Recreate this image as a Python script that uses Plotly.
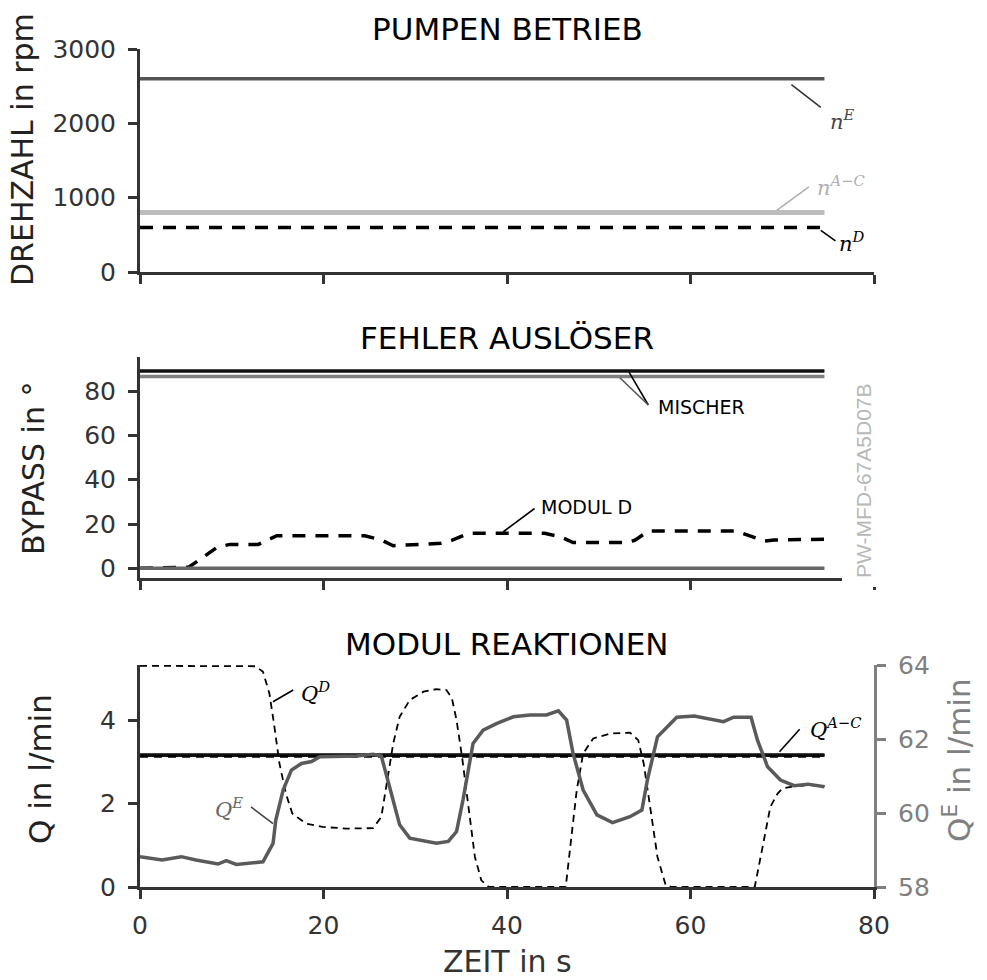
import plotly.graph_objects as go

# ---------------- data ----------------
t_span = [0, 74.6]
n_E = [2600, 2600]
n_AC = [800, 800]
n_D = [600, 600]

mischer_1 = [89.0, 89.0]
mischer_2 = [86.6, 86.6]
bypass_zero = [0.0, 0.0]

t_modd = [0, 3.3, 5.3, 6.7, 8.4, 9.8, 12.9, 14.9, 24.5, 26.3, 27.6, 32.8, 34.1, 35.8,
          44.1, 45.8, 47.2, 53.3, 54.0, 55.4, 65.0, 66.7, 68.1, 69.1, 73.5, 74.6]
modul_d = [0.0, 0.3, 0.5, 4.5, 9.5, 10.8, 10.8, 14.7, 14.7, 12.8, 10.2, 11.3, 12.8, 15.8,
           15.8, 14.3, 11.6, 11.6, 12.8, 16.8, 16.8, 14.3, 12.3, 12.8, 13.1, 13.1]

q_A = [3.17, 3.17]
q_B = [3.15, 3.15]
q_C = [3.13, 3.13]

t_qd = [0, 12.6, 13.4, 14.1, 14.6, 15.2, 15.9, 16.6, 18.1, 19.9, 22.5, 25.4, 26.3, 26.9,
        27.6, 28.3, 29.4, 30.9, 32.3, 33.4, 34.0, 34.5, 35.1, 35.8, 36.5, 37.2, 38.0,
        46.4, 47.1, 47.6, 48.3, 49.4, 51.3, 53.4, 54.3, 54.9, 55.6, 56.4, 57.3, 58.0,
        67.0, 67.3, 68.0, 68.7, 69.5, 70.0, 71.5, 73.0, 74.6]
q_D = [5.30, 5.29, 5.16, 4.64, 3.92, 2.96, 2.24, 1.76, 1.52, 1.44, 1.40, 1.41, 1.68, 2.48,
       3.44, 4.08, 4.48, 4.68, 4.74, 4.72, 4.52, 4.00, 3.12, 1.92, 0.72, 0.16, 0.0,
       0.0, 1.28, 2.32, 3.20, 3.56, 3.68, 3.70, 3.52, 2.96, 1.92, 0.72, 0.04, 0.0,
       0.0, 0.32, 1.12, 1.92, 2.24, 2.36, 2.42, 2.44, 2.42]

t_qe = [0, 2.4, 4.5, 6.1, 8.5, 9.4, 10.5, 13.4, 14.5, 14.8, 15.6, 16.5, 17.6, 18.7, 19.6,
        21.4, 23.6, 25.4, 26.3, 27.0, 28.3, 29.4, 30.5, 32.3, 33.6, 34.5, 35.2, 36.3,
        37.4, 38.9, 40.7, 42.5, 44.3, 45.6, 46.5, 47.2, 48.3, 49.8, 51.5, 53.4, 54.7,
        55.3, 56.4, 57.5, 58.5, 60.4, 62.2, 63.6, 64.7, 66.6, 67.3, 68.4, 69.8, 71.3,
        72.8, 74.6]
q_E = [58.82, 58.73, 58.82, 58.73, 58.62, 58.71, 58.61, 58.68, 59.18, 59.81, 60.62, 61.16,
       61.34, 61.39, 61.52, 61.52, 61.54, 61.59, 61.54, 60.89, 59.68, 59.32, 59.27, 59.18,
       59.23, 59.50, 60.35, 61.88, 62.24, 62.42, 62.60, 62.65, 62.65, 62.76, 62.51, 61.61,
       60.62, 59.95, 59.74, 59.90, 60.08, 60.89, 62.06, 62.33, 62.59, 62.62, 62.53, 62.47,
       62.59, 62.59, 61.97, 61.25, 60.89, 60.74, 60.78, 60.71]

x_ticks = [0, 20, 40, 60, 80]
rpm_ticks = [0, 1000, 2000, 3000]
bypass_ticks = [0, 20, 40, 60, 80]
q_ticks = [0, 2, 4]
qe_ticks = [58, 60, 62, 64]

# ---------------- figure ----------------
W, H = 987, 980
ML, MR, MT, MB = 140, 113, 49, 93
PW, PH = W - ML - MR, H - MT - MB


def px_x(px):
    return (px - ML) / PW


def px_y(py):
    return (H - MB - py) / PH


AX = "#333333"
FONT = "DejaVu Sans"
MATH = "DejaVu Serif"

fig = go.Figure()


def line(x, y, xa, ya, color, width, dash="solid"):
    fig.add_trace(go.Scatter(x=x, y=y, xaxis=xa, yaxis=ya, mode="lines",
                             line=dict(color=color, width=width, dash=dash),
                             showlegend=False, hoverinfo="skip"))


# top panel
line(t_span, n_E, "x", "y", "#555555", 3.5)
line(t_span, n_AC, "x", "y", "#bdbdbd", 5)
line(t_span, n_D, "x", "y", "#000000", 3.5, "13px,10px")

# middle panel
line(t_modd, modul_d, "x2", "y2", "#000000", 3.5, "13px,10px")
line(t_span, bypass_zero, "x2", "y2", "#666666", 3.5)
line(t_span, mischer_1, "x2", "y2", "#111111", 3.5)
line(t_span, mischer_2, "x2", "y2", "#808080", 3.5)

# bottom panel
line(t_qd, q_D, "x3", "y3", "#000000", 1.8, "7px,5px")
line(t_span, q_A, "x3", "y3", "#000000", 3)
line(t_span, q_B, "x3", "y3", "#111111", 3)
line(t_span, q_C, "x3", "y3", "#000000", 2.5, "8px,6px")
line(t_qe, q_E, "x3", "y4", "#5a5a5a", 3.5)

axis_common = dict(showgrid=False, zeroline=False, showline=True, linewidth=3,
                   linecolor=AX, ticks="outside", ticklen=9, tickwidth=3,
                   tickcolor=AX, tickfont=dict(family=FONT, size=25, color=AX))
xa_common = dict(axis_common, ticklabelstandoff=5)
ya_common = dict(axis_common, ticklabelstandoff=7)

dom_top = [px_y(272), px_y(49)]
dom_mid = [px_y(578.3), px_y(356.7)]
dom_bot = [px_y(887), px_y(665)]

fig.update_layout(
    width=W, height=H,
    margin=dict(l=ML, r=MR, t=MT, b=MB),
    paper_bgcolor="white", plot_bgcolor="white",
    xaxis=dict(xa_common, domain=[0, 1], anchor="y", range=[0, 80],
               tickvals=x_ticks, showticklabels=False),
    yaxis=dict(ya_common, domain=dom_top, anchor="x", range=[0, 3000],
               tickvals=rpm_ticks),
    xaxis2=dict(xa_common, domain=[0, 1], anchor="y2", range=[0, 80],
                tickvals=x_ticks, showticklabels=False),
    yaxis2=dict(ya_common, domain=dom_mid, anchor="x2", range=[-4.5, 95.5],
                tickvals=bypass_ticks),
    xaxis3=dict(xa_common, domain=[0, 1], anchor="y3", range=[0, 80],
                tickvals=x_ticks),
    yaxis3=dict(ya_common, domain=dom_bot, anchor="x3", range=[0, 5.32],
                tickvals=q_ticks),
    yaxis4=dict(ya_common, overlaying="y3", side="right", anchor="x3",
                range=[58, 64], tickvals=qe_ticks, linecolor="#808080",
                tickcolor="#808080",
                tickfont=dict(family=FONT, size=25, color="#808080")),
)

ann = []


def text(x, y, s, size=30, color="#111111", family=FONT, angle=0, xanchor="center",
         xref="paper", yref="paper", pad=1):
    ann.append(dict(x=x, y=y, xref=xref, yref=yref, text=s, showarrow=False,
                    textangle=angle, xanchor=xanchor, yanchor="middle", borderpad=pad,
                    font=dict(family=family, size=size, color=color)))


# panel titles
text(0.5, px_y(29), "PUMPEN BETRIEB", 31, "#000000")
text(0.5, px_y(338), "FEHLER AUSLÖSER", 31, "#000000")
text(0.5, px_y(644), "MODUL REAKTIONEN", 31, "#000000")

# axis titles
text(px_x(22), px_y(150), "DREHZAHL in rpm", 30, "#222222", angle=-90)
text(px_x(33), px_y(469), "BYPASS in °", 30, "#222222", angle=-90)
text(px_x(40), px_y(769), "Q in l/min", 31, "#222222", angle=-90)
text(px_x(957), px_y(760), "Q<sup>E</sup> in l/min", 31, "#808080", angle=-90)
text(0.5, px_y(962), "ZEIT in s", 30, "#333333", pad=0)

# series labels
text(76.6, 2050, "<i>n<sup>E</sup></i>", 21, "#444444", MATH, xref="x", yref="y")
text(76.4, 1160, "<i>n<sup>A−C</sup></i>", 21, "#b0b0b0", MATH, xref="x", yref="y")
text(77.6, 400, "<i>n<sup>D</sup></i>", 21, "#000000", MATH, xref="x", yref="y")
text(56.2, 73, "MISCHER", 19, "#000000", xanchor="left", xref="x", yref="y2")
text(43.5, 27.5, "MODUL D", 19, "#000000", xanchor="left", xref="x", yref="y2")
text(19.1, 4.68, "<i>Q<sup>D</sup></i>", 21, "#000000", MATH, xref="x", yref="y3")
text(9.7, 1.9, "<i>Q<sup>E</sup></i>", 21, "#666666", MATH, xref="x", yref="y3")
text(72.8, 3.82, "<i>Q<sup>A−C</sup></i>", 21, "#000000", MATH, xanchor="left",
     xref="x", yref="y3")

# watermark
text(px_x(863), px_y(481), "PW-MFD-67A5D07B", 21, "#b8b8b8", "Liberation Sans", angle=-90)

fig.update_layout(annotations=ann)

shapes = []


def leader(x0, y0, x1, y1, yref, color="#111111", width=1.6):
    shapes.append(dict(type="line", xref="x", yref=yref, x0=x0, y0=y0, x1=x1, y1=y1,
                       line=dict(color=color, width=width)))


leader(71.0, 2520, 74.2, 2215, "y", "#333333")
leader(69.4, 830, 72.9, 1145, "y", "#b0b0b0")
leader(74.2, 560, 75.8, 420, "y", "#000000")
leader(53.3, 88.5, 55.4, 73.7, "y2", "#000000")
leader(52.3, 86.0, 55.4, 73.7, "y2", "#555555")
leader(39.6, 16.5, 43.0, 27.0, "y2", "#000000")
leader(14.5, 4.44, 16.7, 4.72, "y3", "#000000")
leader(12.1, 1.92, 14.5, 1.52, "y3", "#444444")
leader(69.7, 3.24, 71.9, 3.78, "y3", "#000000")

# white box behind the watermark
shapes.append(dict(type="rect", xref="paper", yref="paper",
                   x0=px_x(842), x1=px_x(886), y0=px_y(587), y1=px_y(370),
                   fillcolor="white", line=dict(width=0), layer="above"))

fig.update_layout(shapes=shapes)

fig.write_html("out.html")
